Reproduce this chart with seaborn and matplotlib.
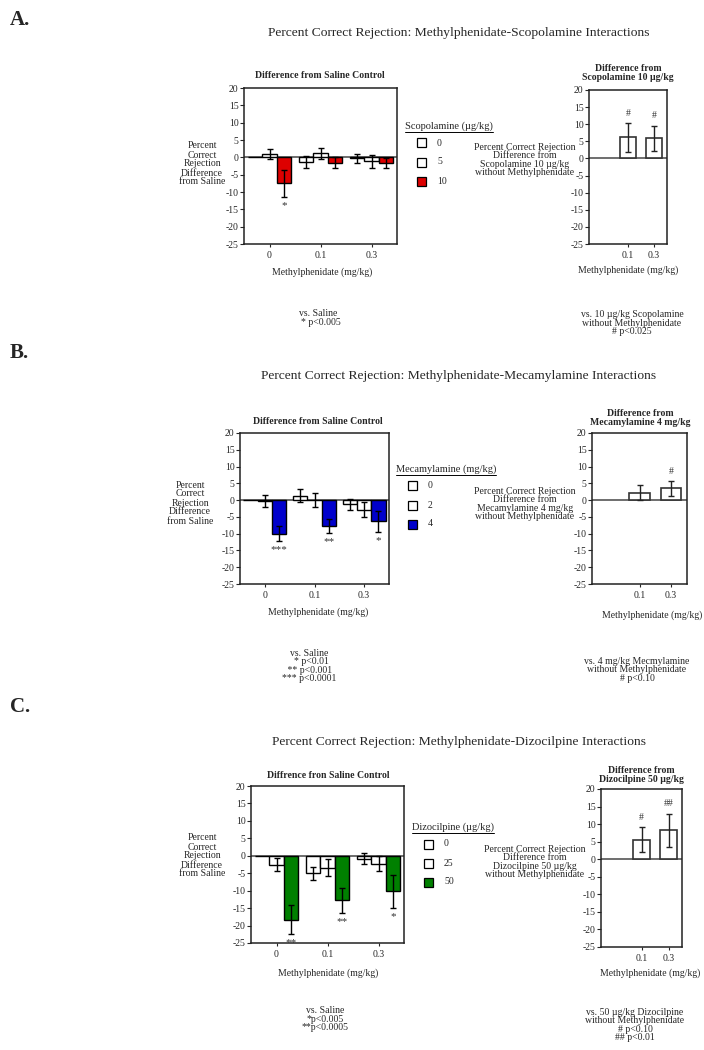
import numpy as np
import pandas as pd
import matplotlib
matplotlib.use("Agg")
import matplotlib.pyplot as plt
import seaborn as sns
from matplotlib.patches import Rectangle
from matplotlib.lines import Line2D

# ---------------- data ----------------
mph_levels = ['0', '0.1', '0.3']

scop_doses = ['0', '5', '10']
scop_means_0 = [0.0, -1.3, -0.3]
scop_means_5 = [1.0, 1.2, -1.2]
scop_means_10 = [-7.5, -1.5, -1.6]
scop_sem_0 = [0.0, 1.8, 1.2]
scop_sem_5 = [1.5, 1.6, 2.0]
scop_sem_10 = [3.8, 1.6, 1.4]
scop_right_means = [6.2, 5.9]
scop_right_sem = [4.2, 3.7]

mec_doses = ['0', '2', '4']
mec_means_0 = [0.0, 1.3, -1.3]
mec_means_2 = [-0.3, 0.0, -2.8]
mec_means_4 = [-10.0, -7.7, -6.3]
mec_sem_0 = [0.0, 1.9, 1.6]
mec_sem_2 = [1.8, 2.0, 2.3]
mec_sem_4 = [2.2, 2.2, 3.1]
mec_right_means = [2.2, 3.5]
mec_right_sem = [2.3, 2.3]

diz_doses = ['0', '25', '50']
diz_means_0 = [0.0, -5.0, -0.8]
diz_means_25 = [-2.5, -3.4, -2.3]
diz_means_50 = [-18.3, -12.8, -10.2]
diz_sem_0 = [0.0, 1.9, 1.6]
diz_sem_25 = [1.8, 2.4, 2.2]
diz_sem_50 = [4.1, 3.7, 4.8]
diz_right_means = [5.6, 8.3]
diz_right_sem = [3.6, 4.7]

right_levels = ['0.1', '0.3']

sig_left_A = ['*', '', '']
sig_left_B = ['***', '**', '*']
sig_left_C = ['**', '**', '*']
sig_right_A = ['#', '#']
sig_right_B = ['', '#']
sig_right_C = ['#', '##']

# ---------------- style ----------------
sns.set_style("ticks")
plt.rcParams['font.family'] = ['Liberation Serif', 'DejaVu Serif']
plt.rcParams['axes.unicode_minus'] = False

W, H = 704, 1050
fig = plt.figure(figsize=(W / 100, H / 100), dpi=100)
FS = 7


def rect(x0, y0, x1, y1):
    return [x0 / W, 1 - y1 / H, (x1 - x0) / W, (y1 - y0) / H]


def ftext(x, y, s, **kw):
    kw.setdefault('ha', 'center')
    kw.setdefault('va', 'center')
    kw.setdefault('fontsize', FS)
    return fig.text(x / W, 1 - y / H, s, **kw)


def style_axes(ax):
    ax.set_ylim(-25, 20)
    ax.set_yticks(np.arange(-25, 21, 5))
    ax.set_xlim(-0.5, 2.5)
    for sp in ax.spines.values():
        sp.set_visible(True)
        sp.set_linewidth(1.1)
        sp.set_color('#222222')
    ax.tick_params(axis='y', labelsize=FS, length=3, width=0.8, pad=1)
    ax.tick_params(axis='x', labelsize=FS, length=2, width=0.8, pad=3)
    ax.axhline(0, color='#555555', lw=1.2, zorder=0.5)
    ax.set_xlabel('')
    ax.set_ylabel('')
    if ax.get_legend() is not None:
        ax.get_legend().remove()


def left_panel(box, doses, means, sems, color, sig):
    ax = fig.add_axes(rect(*box))
    rows = []
    for d, m in zip(doses, means):
        for g, v in zip(mph_levels, m):
            rows.append({'mph': g, 'dose': d, 'val': v})
    df = pd.DataFrame(rows)
    sns.barplot(data=df, x='mph', y='val', hue='dose', order=mph_levels,
                hue_order=doses, palette=['white', 'white', color],
                saturation=1, width=0.86, edgecolor='black', linewidth=1.0,
                errorbar=None, ax=ax, zorder=2)
    bar_conts = list(ax.containers)
    for cont, m, s in zip(bar_conts, means, sems):
        for p, mv, sv in zip(cont.patches, m, s):
            if sv > 0:
                xc = p.get_x() + p.get_width() / 2
                ax.errorbar(xc, mv, yerr=sv, color='black', lw=1.0,
                            capsize=2.5, capthick=1.0, zorder=3)
    last = bar_conts[-1]
    for p, mv, sv, s in zip(last.patches, means[-1], sems[-1], sig):
        if s:
            xc = p.get_x() + p.get_width() / 2
            ax.text(xc, mv - sv - 1.2, s, ha='center', va='top',
                    fontsize=FS + 1, color='#333333')
    style_axes(ax)
    return ax


def right_panel(box, means, sems, sig):
    ax = fig.add_axes(rect(*box))
    df = pd.DataFrame({'mph': right_levels, 'val': means})
    sns.barplot(data=df, x='mph', y='val', order=mph_levels, color='white',
                saturation=1, width=0.65, edgecolor='#333333', linewidth=1.2,
                errorbar=None, ax=ax, zorder=2)
    bars = list(ax.patches)
    for p, mv, sv, s in zip(bars, means, sems, sig):
        xc = p.get_x() + p.get_width() / 2
        ax.errorbar(xc, mv, yerr=sv, color='#222222', lw=1.0,
                    capsize=2.5, capthick=1.0, zorder=3)
        if s:
            ax.text(xc, mv + sv + 1.5, s, ha='center', va='bottom',
                    fontsize=FS, color='#333333')
    style_axes(ax)
    ax.set_xticks([1, 2])
    ax.set_xticklabels(right_levels)
    return ax


def legend(x, y, title, labels, color, face_mid='white'):
    t = ftext(x, y, title, ha='left', fontsize=FS + 0.5)
    fig.canvas.draw()
    bb = t.get_window_extent()
    x0, x1 = bb.x0 / W, bb.x1 / W
    yl = bb.y0 / H - 1.0 / H
    fig.add_artist(Line2D([x0, x1], [yl, yl], transform=fig.transFigure,
                          color='black', lw=0.7))
    faces = ['white', face_mid, color]
    for i, (lab, fc) in enumerate(zip(labels, faces)):
        yy = y + 17 + i * 19
        fig.add_artist(Rectangle(((x + 12) / W, 1 - (yy + 4.5) / H), 9 / W, 9 / H,
                                 transform=fig.transFigure, facecolor=fc,
                                 edgecolor='black', lw=0.9))
        ftext(x + 32, yy, lab, ha='left')


RED = '#dd0000'
BLUE = '#0000cc'
GREEN = '#008000'
TFS = 9.7

# ---------------- Panel A ----------------
ftext(10, 20, 'A.', ha='left', fontsize=15, fontweight='bold')
ftext(459, 33, 'Percent Correct Rejection: Methylphenidate-Scopolamine Interactions',
      fontsize=TFS)
left_panel((244, 88, 397, 244), scop_doses,
           [scop_means_0, scop_means_5, scop_means_10],
           [scop_sem_0, scop_sem_5, scop_sem_10], RED, sig_left_A)
ftext(320, 75, 'Difference from Saline Control', fontweight='bold')
ftext(202, 164, 'Percent\nCorrect\nRejection\nDifference\nfrom Saline', linespacing=1.0)
ftext(322, 272, 'Methylphenidate (mg/kg)')
legend(405, 126, 'Scopolamine (µg/kg)', scop_doses, RED)
right_panel((589, 90, 667, 244), scop_right_means, scop_right_sem, sig_right_A)
ftext(628, 73, 'Difference from\nScopolamine 10 µg/kg', fontweight='bold', linespacing=0.95)
ftext(525, 160, 'Percent Correct Rejection\nDifference from\nScopolamine 10 µg/kg\nwithout Methylphenidate',
      linespacing=0.95)
ftext(628, 270, 'Methylphenidate (mg/kg)')
ftext(318, 318, 'vs. Saline\n  * p<0.005', linespacing=0.95)
ftext(632, 323, 'vs. 10 µg/kg Scopolamine\nwithout Methylphenidate\n# p<0.025', linespacing=0.95)

# ---------------- Panel B ----------------
ftext(10, 353, 'B.', ha='left', fontsize=15, fontweight='bold')
ftext(459, 376, 'Percent Correct Rejection: Methylphenidate-Mecamylamine Interactions',
      fontsize=TFS)
left_panel((240, 433, 389, 584), mec_doses,
           [mec_means_0, mec_means_2, mec_means_4],
           [mec_sem_0, mec_sem_2, mec_sem_4], BLUE, sig_left_B)
ftext(318, 421, 'Difference from Saline Control', fontweight='bold')
ftext(190, 503, 'Percent\nCorrect\nRejection\nDifference\nfrom Saline', linespacing=1.0)
ftext(318, 612, 'Methylphenidate (mg/kg)')
legend(396, 469, 'Mecamylamine (mg/kg)', mec_doses, BLUE)
right_panel((592, 433, 687, 584), mec_right_means, mec_right_sem, sig_right_B)
ftext(640, 418, 'Difference from\nMecamylamine 4 mg/kg', fontweight='bold', linespacing=0.95)
ftext(525, 504, 'Percent Correct Rejection\nDifference from\nMecamylamine 4 mg/kg\nwithout Methylphenidate',
      linespacing=0.95)
ftext(652, 615, 'Methylphenidate (mg/kg)')
ftext(309, 666, 'vs. Saline\n  * p<0.01\n ** p<0.001\n*** p<0.0001', linespacing=0.95)
ftext(637, 670, 'vs. 4 mg/kg Mecmylamine\nwithout Methylphenidate\n# p<0.10', linespacing=0.95)

# ---------------- Panel C ----------------
ftext(10, 707, 'C.', ha='left', fontsize=15, fontweight='bold')
ftext(459, 742, 'Percent Correct Rejection: Methylphenidate-Dizocilpine Interactions',
      fontsize=TFS)
left_panel((251, 786, 404, 943), diz_doses,
           [diz_means_0, diz_means_25, diz_means_50],
           [diz_sem_0, diz_sem_25, diz_sem_50], GREEN, sig_left_C)
ftext(328, 776, 'Diffrence fron Saline Control', fontweight='bold')
ftext(202, 856, 'Percent\nCorrect\nRejection\nDifference\nfrom Saline', linespacing=1.0)
ftext(328, 973, 'Methylphenidate (mg/kg)')
legend(412, 827, 'Dizocilpine (µg/kg)', diz_doses, GREEN)
right_panel((601, 789, 682, 947), diz_right_means, diz_right_sem, sig_right_C)
ftext(641, 775, 'Difference from\nDizocilpine 50 µg/kg', fontweight='bold', linespacing=0.95)
ftext(535, 862, 'Percent Correct Rejection\nDifference from\nDizocilpine 50 µg/kg\nwithout Methylphenidate',
      linespacing=0.95)
ftext(650, 973, 'Methylphenidate (mg/kg)')
ftext(325, 1019, 'vs. Saline\n*p<0.005\n**p<0.0005', linespacing=0.95)
ftext(635, 1025, 'vs. 50 µg/kg Dizocilpine\nwithout Methylphenidate\n# p<0.10\n## p<0.01',
      linespacing=0.95)

fig.savefig('out.png', dpi=100)
